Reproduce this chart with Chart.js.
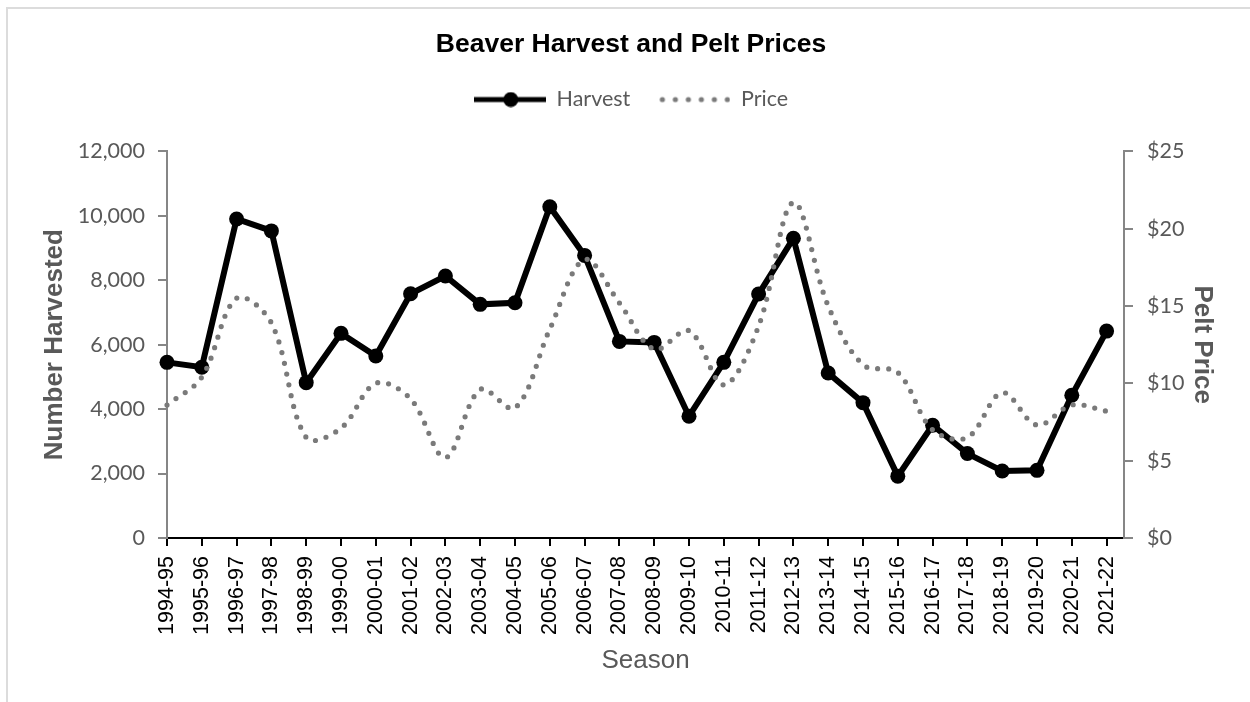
<!DOCTYPE html>
<html>
<head>
<meta charset="utf-8">
<title>Beaver Harvest and Pelt Prices</title>
<script src="https://cdn.jsdelivr.net/npm/chart.js@4.4.1/dist/chart.umd.min.js"></script>
<style>
  html, body { margin: 0; padding: 0; background: #fff; overflow: hidden; }
  #cadre { position: absolute; left: 6px; top: 7px; width: 1300px; height: 800px;
           border-top: 2px solid #dcdcdc; border-left: 2px solid #dcdcdc; }
  #zone { position: absolute; left: 0; top: 0; width: 1250px; height: 702px; }
</style>
</head>
<body>
<div id="cadre"></div>
<div id="zone"><canvas id="graph" width="1250" height="702"></canvas></div>
<script>
// Données
const saisons = ["1994-95", "1995-96", "1996-97", "1997-98", "1998-99", "1999-00", "2000-01",
    "2001-02", "2002-03", "2003-04", "2004-05", "2005-06", "2006-07", "2007-08", "2008-09",
    "2009-10", "2010-11", "2011-12", "2012-13", "2013-14", "2014-15", "2015-16", "2016-17",
    "2017-18", "2018-19", "2019-20", "2020-21", "2021-22"];
const recolte = [5450, 5300, 9900, 9530, 4820, 6350, 5650, 7580, 8130, 7250, 7300, 10280, 8770,
    6100, 6070, 3780, 5450, 7570, 9300, 5120, 4200, 1920, 3500, 2620, 2080, 2100, 4430, 6420];
const prix = [8.6, 10.4, 15.5, 13.9, 6.5, 7.1, 10.0, 9.0, 5.2, 9.6, 8.4, 13.5, 18.0, 15.2,
    12.2, 13.4, 9.9, 13.7, 21.7, 15.0, 11.2, 10.7, 7.0, 6.5, 9.4, 7.3, 8.6, 8.2];
const ticksRecolte = [0, 2000, 4000, 6000, 8000, 10000, 12000];
const ticksPrix = [0, 5, 10, 15, 20, 25];

const gris = "#595959";
const grisAxe = "#868686";

// petits dessins pour la légende
function symboleHarvest() {
    const c = document.createElement("canvas");
    c.width = 72; c.height = 16;
    const g = c.getContext("2d");
    g.strokeStyle = "#000";
    g.lineWidth = 5;
    g.beginPath(); g.moveTo(0, 8); g.lineTo(72, 8); g.stroke();
    g.fillStyle = "#000";
    g.beginPath(); g.arc(37, 8, 7.5, 0, Math.PI * 2); g.fill();
    return c;
}
function symbolePrix() {
    const c = document.createElement("canvas");
    c.width = 72; c.height = 16;
    const g = c.getContext("2d");
    g.fillStyle = "#7a7a7a";
    for (let i = 0; i < 6; i++) {
        g.beginPath(); g.arc(4 + i * 13, 8, 2.6, 0, Math.PI * 2); g.fill();
    }
    return c;
}

// agrandir la légende pour descendre la zone du graphique
const espaceLegende = {
    id: "espaceLegende",
    beforeInit(chart) {
        const fitOrig = chart.legend.fit;
        chart.legend.fit = function () {
            fitOrig.bind(chart.legend)();
            this.height += 31;
        };
    }
};

const ctx = document.getElementById("graph").getContext("2d");

new Chart(ctx, {
    type: "line",
    data: {
        datasets: [{
            label: "Harvest",
            data: recolte.map((v, i) => ({ x: i, y: v })),
            yAxisID: "y",
            borderColor: "#000",
            borderWidth: 6,
            pointRadius: 7.5,
            pointBackgroundColor: "#000",
            pointBorderWidth: 0,
            tension: 0,
            clip: false,
            order: 1
        }, {
            label: "Price",
            data: prix.map((v, i) => ({ x: i, y: v })),
            yAxisID: "y1",
            borderColor: "#7a7a7a",
            borderWidth: 5.2,
            borderDash: [0, 11],
            borderCapStyle: "round",
            pointRadius: 0,
            tension: 0.35,
            clip: false,
            order: 0
        }]
    },
    options: {
        responsive: false,
        animation: false,
        layout: { padding: { left: 12, right: 0, top: 0, bottom: 0 } },
        plugins: {
            tooltip: { enabled: false },
            title: {
                display: true,
                text: "Beaver Harvest and Pelt Prices",
                color: "#000",
                font: { family: "'Liberation Sans', Arial", size: 26.5, weight: "bold" },
                padding: { top: 29, bottom: 0 }
            },
            legend: {
                display: true,
                labels: {
                    usePointStyle: true,
                    pointStyleWidth: 72,
                    padding: 28,
                    color: gris,
                    font: { family: "Lato", size: 21.5 },
                    generateLabels: () => [
                        { text: "Harvest", pointStyle: symboleHarvest(), fontColor: gris, datasetIndex: 0 },
                        { text: "Price", pointStyle: symbolePrix(), fontColor: gris, datasetIndex: 1 }
                    ]
                }
            }
        },
        scales: {
            x: {
                type: "linear",
                min: 0,
                max: 27.5,
                afterBuildTicks: (scale) => { scale.ticks = saisons.map((s, i) => ({ value: i })); },
                afterFit: (scale) => { scale.height = 164; },
                ticks: {
                    autoSkip: false,
                    minRotation: 90,
                    maxRotation: 90,
                    padding: 10,
                    color: "#000",
                    font: { family: "'Liberation Sans', Arial", size: 21.5 },
                    callback: (valeur) => saisons[valeur] ?? ""
                },
                grid: { drawOnChartArea: false, color: "#000", lineWidth: 2, tickLength: 8 },
                border: { color: "#000", width: 2 },
                title: {
                    display: true,
                    text: "Season",
                    color: gris,
                    font: { family: "'Liberation Sans', Arial", size: 26 },
                    padding: { top: 0, bottom: 26 }
                }
            },
            y: {
                position: "left",
                min: 0,
                max: 12000,
                afterBuildTicks: (scale) => { scale.ticks = ticksRecolte.map(v => ({ value: v })); },
                afterFit: (scale) => { scale.width = 155; },
                ticks: {
                    padding: 13,
                    color: gris,
                    font: { family: "Lato", size: 21.5 },
                    callback: (v) => v.toLocaleString("en-US")
                },
                grid: { drawOnChartArea: false, color: grisAxe, lineWidth: 2, tickLength: 9 },
                border: { color: grisAxe, width: 2 },
                title: {
                    display: true,
                    text: "Number Harvested",
                    color: gris,
                    font: { family: "'Liberation Sans', Arial", size: 26, weight: "bold" },
                    padding: { top: 27, bottom: 0 }
                }
            },
            y1: {
                position: "right",
                min: 0,
                max: 25,
                afterBuildTicks: (scale) => { scale.ticks = ticksPrix.map(v => ({ value: v })); },
                afterFit: (scale) => { scale.width = 126; },
                ticks: {
                    padding: 14,
                    color: gris,
                    font: { family: "Lato", size: 21.5 },
                    callback: (v) => "$" + v
                },
                grid: { drawOnChartArea: false, color: grisAxe, lineWidth: 2, tickLength: 9 },
                border: { color: grisAxe, width: 2 },
                title: {
                    display: true,
                    text: "Pelt Price",
                    color: gris,
                    font: { family: "'Liberation Sans', Arial", size: 26, weight: "bold" },
                    padding: { top: 32, bottom: 0 }
                }
            }
        }
    },
    plugins: [espaceLegende]
});
</script>
</body>
</html>
